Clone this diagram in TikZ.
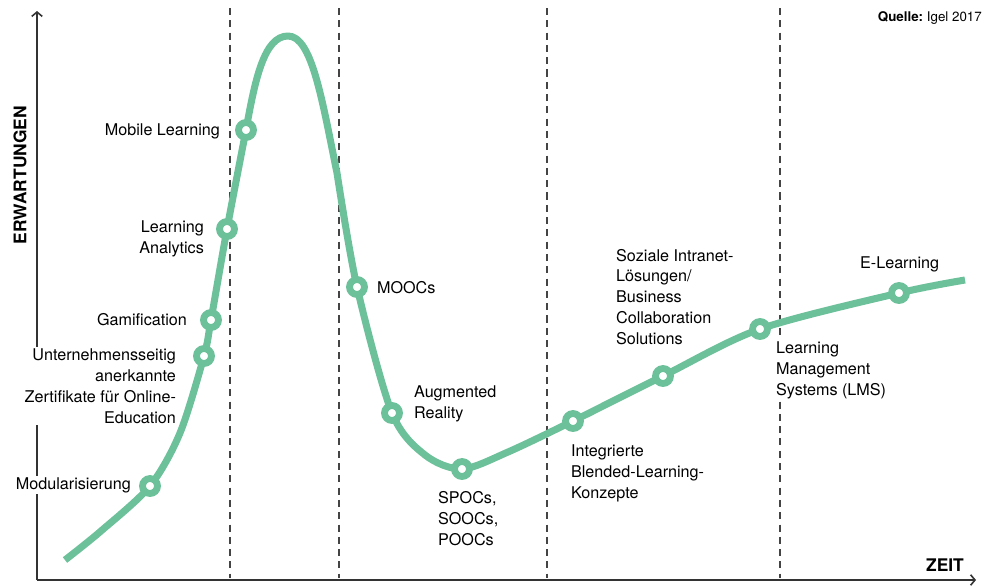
\documentclass[tikz,border=0pt]{standalone}
\usepackage{fontspec}
\setmainfont{TeX Gyre Heros}
\usetikzlibrary{arrows.meta}
\definecolor{hypegreen}{RGB}{108,192,154}
\definecolor{axisgray}{RGB}{51,51,51}
\definecolor{dashgray}{RGB}{68,68,68}
\tikzset{
  axisline/.style={draw=axisgray,line width=1.2pt,-{Straight Barb[length=2.5pt,width=6pt,line width=0.9pt]}},
  phaseline/.style={draw=dashgray,line width=0.8pt,dash pattern=on 4pt off 3pt},
  lbl/.style={font=\fontsize{9.2}{11.9}\selectfont,fill=white,inner sep=1pt,text=black},
  lblr/.style={lbl,anchor=east,align=right},
  lbll/.style={lbl,anchor=west,align=left},
  hypecurve/.style={draw=hypegreen,line width=4pt,line cap=butt,line join=round},
  marker/.style={circle,draw=hypegreen,fill=white,line width=3.9pt,minimum size=8.5pt,inner sep=0pt},
  axislabel/.style={font=\fontsize{9.9}{12}\selectfont\bfseries,text=black}
}
\begin{document}
\begin{tikzpicture}[x=0.02cm,y=-0.02cm]
\useasboundingbox (0,0) rectangle (1000,585);
% axes
\coordinate (origin) at (37,580);
\coordinate (ytop) at (37,11);
\coordinate (xend) at (976,580);
\draw[axisline] (origin) -- (ytop);
\draw[axisline] (origin) -- (xend);
% phase separators
\foreach \x/\n in {230/a,339/b,547/c,780/d}{
  \coordinate (top\n) at (\x,8);
  \coordinate (bot\n) at (\x,578);
  \draw[phaseline] (top\n) -- (bot\n);
}
% axis labels
\node[axislabel,rotate=90] (erw) at (20,175) {ERWARTUNGEN};
\node[axislabel] (zeit) at (945,565) {ZEIT};
\node[font=\fontsize{7.6}{9}\selectfont,anchor=east,text=black] (quelle) at (988,18) {\textbf{Quelle:}~Igel 2017};
% labels
\node[lblr] (lmob) at (222,131) {Mobile Learning};
\node[lblr] (lana) at (206,239) {Learning\\Analytics};
\node[lblr] (lgam) at (189,320) {Gamification};
\node[lblr] (lunt) at (178,386) {Unternehmensseitig\\anerkannte\\Zertifikate für Online-\\Education};
\node[lblr] (lmod) at (133,485) {Modularisierung};
\node[lbll] (lmoo) at (375,288) {MOOCs};
\node[lbll] (laug) at (412,404) {Augmented\\Reality};
\node[lbll] (lspo) at (436,519) {SPOCs,\\SOOCs,\\POOCs};
\node[lbll] (lint) at (569,473) {Integrierte\\Blended-Learning-\\Konzepte};
\node[lbll] (lsoz) at (614,297) {Soziale Intranet-\\Lösungen/\\Business\\Collaboration\\Solutions};
\node[lbll] (llms) at (774,370) {Learning\\Management\\Systems (LMS)};
\node[lbll] (lel) at (858,264) {E-Learning};
% curve points
\coordinate (mmod) at (150,486);
\coordinate (munt) at (204,356);
\coordinate (mgam) at (211,320);
\coordinate (mana) at (227,229);
\coordinate (mmob) at (246,130);
\coordinate (peak) at (288,36);
\coordinate (fall) at (337,173);
\coordinate (mmoo) at (357,287);
\coordinate (maug) at (392,413);
\coordinate (mspo) at (462,469);
\coordinate (mint) at (573,421);
\coordinate (msoz) at (663,376);
\coordinate (mlms) at (760,329);
\coordinate (mel) at (899,293);
\draw[hypecurve] plot[smooth,tension=0.5] coordinates {
  (65,560) (101,531) (mmod) (180,433) (munt) (mgam) (mana) (mmob)}
  .. controls (255,80) and (264,36) .. (peak)
  .. controls (312,36) and (322,100) .. (fall)
  -- plot[smooth,tension=0.5] coordinates {(fall) (mmoo) (maug) (425,455) (mspo)
  (508,452) (mint) (msoz) (mlms) (mel) (965,280)};
\foreach \m in {mmod,munt,mgam,mana,mmob,mmoo,maug,mspo,mint,msoz,mlms,mel}{
  \node[marker] (k\m) at (\m) {};
}
\end{tikzpicture}
\end{document}
